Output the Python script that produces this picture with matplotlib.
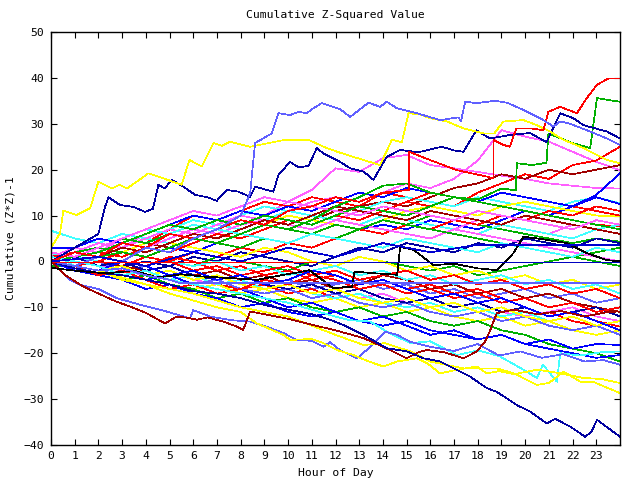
import matplotlib
matplotlib.use("Agg")
import matplotlib.pyplot as plt

# ---------------- palette ----------------
R = '#ff0000'; G = '#00b000'; B = '#0000ff'; M = '#ff60ff'; C = '#40ffff'
Y = '#ffff00'; K = '#000000'; DR = '#a00000'; LB = '#6060ff'; N = '#0000a0'

hours = list(range(25))
x_ticks = list(range(24))
y_ticks = list(range(-40, 51, 10))

# ---------------- bundle walks (hourly readings) ----------------
b01 = [0, 2, 4, 3, 6, 8, 7, 9, 11, 10, 13, 15.6, 20.3, 19.5, 22.5, 23.2, 21, 20.3, 19.5, 18.7, 18, 17, 16.5, 16, 15.9]
b02 = [1, 3, 2, 5, 4, 7, 9, 8, 10, 12, 11, 13, 14, 13, 15, 17, 16, 18, 22, 28.6, 27.2, 26.1, 23.9, 21.7, 19.9]
b03 = [0, 1, 3, 5, 4, 7, 10, 9, 11, 13, 12, 11, 13, 12, 15, 14, 13, 12, 15, 17, 19, 18, 21, 22, 25.0]
b04 = [0, 1, 0, 2, 4, 3, 5, 7, 6, 8, 10, 9, 11, 12, 13, 12, 14, 16, 17, 19, 18, 20, 19, 20, 21]
b05 = [2, -1, 1, 3, 5, 4, 6, 8, 7, 9, 11, 10, 12, 11, 13, 14, 13, 12, 14, 13, 12, 11, 13, 14, 12.7]
b06 = [0, 1, 0, 2, 1, 3, 2, 4, 6, 5, 4, 6, 5, 7, 8, 7, 9, 8, 7, 9, 11, 10, 12, 14.5, 19.2]
b07 = [1, 2, 1, 4, 6, 8, 7, 9, 11, 10, 12, 14, 13, 12, 11, 13, 15, 14, 13, 12, 11, 10, 9, 8, 7.6]
b08 = [0, 1, 3, 2, 4, 6, 5, 7, 6, 8, 10, 9, 8, 7, 9, 11, 12, 11, 10, 12, 13, 12, 11, 10, 9.8]
b09 = [0, -1, 0, 2, 1, 3, 5, 7, 9, 8, 7, 6, 8, 7, 6, 8, 10, 9, 8, 7, 6, 5, 4, 5, 4.3]
b10 = [0, 1, 2, 4, 3, 5, 7, 6, 8, 9, 8, 10, 9, 11, 10, 9, 8, 7, 9, 8, 7, 6, 8, 7, 6]
b11 = [6.7, 5, 4, 6, 5, 7, 9, 8, 10, 12, 11, 10, 9, 8, 10, 9, 8, 7, 6, 8, 7, 6, 5, 7, 8]
b12 = [0, 1, 0, -1, 1, 0, 2, 1, 3, 2, 4, 3, 5, 7, 6, 8, 7, 9, 8, 10, 9, 11, 10, 12, 11]
b13 = [0, -1, -2, -1, 0, -1, 1, 0, 2, 1, 0, -1, 1, 3, 2, 4, 3, 2, 4, 3, 5, 4, 3, 5, 4]
b14 = [0, 1, 3, 2, 1, 0, -1, 1, 0, -1, -2, 0, -1, 1, 0, -1, -2, -1, -3, -2, -1, 0, 1, 2, 3]
b15 = [0, -1, 0, -2, -1, -3, -2, -4, -3, -5, -4, -6, -5, -4, -6, -5, -7, -6, -8, -7, -6, -8, -7, -9, -8]
b16 = [-1, -1, -2, -3, -2, -4, -3, -5, -6, -5, -7, -6, -8, -7, -9, -8, -10, -9, -11, -10, -12, -11, -13, -14, -16]
b17 = [0, -1, -3, -2, -4, -5, -6, -5, -7, -6, -8, -9, -8, -10, -9, -11, -10, -12, -13, -12, -14, -13, -15, -16, -15]
b18 = [0, 1, -1, -2, -3, -2, -4, -5, -4, -6, -5, -7, -6, -8, -7, -9, -8, -10, -9, -11, -12, -11, -10, -12, -13]
b19 = [-1, -1, -2, -4, -3, -5, -6, -8, -7, -9, -8, -10, -11, -10, -12, -11, -13, -14, -13, -15, -16, -18, -19, -20, -21.8]
b20 = [0, -2, -3, -4, -6, -5, -7, -8, -10, -9, -11, -12, -11, -13, -14, -13, -15, -16, -17, -16, -18, -19, -20, -21, -20.4]
b21 = [0, -1, -2, -1, -3, -4, -3, -5, -4, -6, -5, -7, -8, -7, -9, -10, -9, -11, -10, -12, -11, -13, -12, -14, -13]
b22 = [0, 1, 0, -1, -2, -1, -3, -2, -4, -3, -5, -4, -6, -5, -3, -4, -6, -5, -7, -6, -8, -7, -9, -10, -11]
b23 = [0, 2, 1, 0, -1, 1, 0, -2, -1, -3, -2, -4, -3, -5, -4, -6, -5, -7, -6, -8, -10, -12, -11, -13, -14.2]
b24 = [0, -1, -3, -2, -4, -3, -5, -7, -6, -8, -10, -9, -11, -13, -12, -14, -16, -15, -17, -16, -18, -17, -19, -18, -18.2]
b25 = [0, 2, 1, 3, 2, 4, 3, 2, 1, 3, 2, 0, -1, 1, 0, -2, -1, -3, -2, -4, -3, -5, -4, -6, -5]
b26 = [0, 2, 4, 3, 5, 7, 6, 8, 10, 9, 8, 7, 9, 8, 7, 6, 5, 7, 6, 5, 4, 3, 2, 1, 0]
b27 = [0, 1, 0, 2, 1, 0, -1, 0, -2, -1, -3, -2, -1, -3, -2, -4, -3, -5, -4, -3, -5, -4, -6, -5, -7]
b28 = [0, 2, 3, 5, 4, 6, 5, 4, 3, 5, 4, 6, 5, 7, 9, 8, 7, 6, 5, 4, 3, 2, 1, 0, -1]
b29 = [0, 1, 2, 1, 3, 2, 4, 6, 5, 7, 9, 8, 10, 9, 11, 13, 12, 14, 13, 15, 14, 13, 12, 11, 10]
b30 = [0, -1, -2, -3, -2, -4, -5, -4, -6, -7, -6, -8, -7, -9, -10, -9, -11, -12, -11, -13, -12, -14, -15, -14, -16]
b31 = [0, 1, -1, 0, -2, -1, -3, -4, -3, -5, -6, -5, -7, -6, -8, -9, -8, -10, -9, -11, -10, -12, -11, -10, -12]
b32 = [0, -1, 1, 3, 2, 4, 6, 5, 7, 9, 8, 10, 12, 11, 10, 9, 11, 10, 9, 8, 10, 9, 8, 7, 6]
b33 = [0, -1, -2, -1, -3, -2, -4, -3, -5, -6, -5, -7, -6, -8, -9, -8, -10, -9, -11, -10, -12, -13, -12, -14, -13]
b34 = [3, 3, 5, 4, 6, 8, 10, 9, 11, 10, 12, 11, 13, 15, 14, 16, 15, 14, 13, 15, 14, 13, 12, 14, 12.5]
b35 = [0, 1, 3, 5, 7, 6, 8, 7, 6, 5, 4, 6, 5, 4, 3, 5, 4, 3, 2, 4, 3, 2, 1, 3, 2]
b36 = [0, -1, 0, 2, 1, 0, -2, -1, -3, -2, -1, -3, -2, -4, -3, -2, -4, -3, -5, -4, -6, -5, -7, -6, -8]
b37 = [0, 1, 2, 4, 6, 8, 7, 9, 8, 10, 9, 8, 10, 12, 11, 10, 12, 14, 13, 12, 11, 10, 9, 8, 7]
b38 = [2, 1, 3, 5, 7, 9, 11, 10, 12, 14, 13, 12, 11, 10, 12, 11, 10, 9, 11, 10, 9, 8, 7, 9, 8]
b39 = [0, -1, -3, -2, -4, -6, -5, -7, -6, -4, -5, -3, -4, -6, -5, -7, -6, -8, -7, -9, -8, -10, -9, -11, -10]
b40 = [0, -1, -2, 0, -1, -3, -2, -4, -3, -5, -4, -2, -3, -5, -4, -6, -8, -7, -9, -8, -10, -12, -11, -13, -15]

bundle = [
    (b01, M), (b02, M), (b03, R), (b04, DR), (b05, C), (b06, B), (b07, R), (b08, Y),
    (b09, G), (b10, M), (b11, C), (b12, R), (b13, N), (b14, G), (b15, LB), (b16, R),
    (b17, Y), (b18, M), (b19, G), (b20, B), (b21, C), (b22, DR), (b23, R), (b24, B),
    (b25, Y), (b26, M), (b27, C), (b28, G), (b29, R), (b30, LB), (b31, N), (b32, DR),
    (b33, Y), (b34, B), (b35, C), (b36, R), (b37, G), (b38, M), (b39, R), (b40, B),
]

# ---------------- prominent walks (finer readings) ----------------
lbtop_x = [0, 1, 2, 3, 4, 5, 6, 7, 8, 8.4, 8.61, 9.31, 9.59, 10.08, 10.44, 10.79, 11.07, 11.42, 12.19, 12.62, 13.39, 13.88, 14.16, 14.59, 15.43, 16.41, 17.19, 17.29, 17.47, 17.96, 18.73, 19.23, 19.93, 20.77, 21.19, 21.48, 21.9, 22.74, 23.45, 24]
lbtop_y = [0, -1, 1, 0, 3, 2, 5, 7, 10, 14.9, 25.8, 27.9, 32.3, 31.9, 32.6, 32.3, 33.4, 34.5, 33.2, 31.5, 34.6, 33.7, 34.8, 33.4, 32.3, 30.8, 31.4, 30.5, 34.8, 34.5, 35.0, 34.6, 33.0, 30.8, 29.4, 30.5, 30.0, 28.3, 26.8, 25.4]

ytop_x = [0, 0.38, 0.52, 1.08, 1.65, 2.0, 2.56, 2.9, 3.2, 3.76, 4.1, 4.74, 5.51, 5.84, 6.36, 6.85, 7.2, 7.55, 8.4, 9.87, 10.86, 11.63, 12.19, 13.18, 13.88, 14.38, 14.8, 15.08, 15.6, 15.99, 16.7, 17.4, 18.24, 18.7, 19.08, 19.93, 20.49, 21.05, 21.62, 22.46, 23.45, 24]
ytop_y = [3, 6.1, 11.1, 10.1, 11.6, 17.4, 15.9, 16.7, 15.9, 17.9, 19.2, 18.1, 16.7, 22.1, 20.7, 25.8, 25.2, 26.1, 25.0, 26.5, 26.5, 24.7, 23.7, 22.1, 21.0, 26.5, 26.0, 32.3, 32.0, 31.2, 30.5, 29.0, 27.9, 27.9, 30.5, 30.8, 29.7, 28.3, 26.5, 24.7, 22.1, 21.4]

ntop_x = [0, 1, 2, 2.28, 2.42, 2.91, 3.47, 3.97, 4.3, 4.53, 4.8, 5.09, 5.58, 6.08, 6.6, 6.99, 7.41, 7.9, 8.4, 8.61, 9.38, 9.59, 10.08, 10.44, 10.86, 11.21, 11.5, 12.19, 12.62, 13.18, 13.6, 14.16, 14.73, 15.5, 16.48, 17.0, 17.4, 17.94, 18.52, 19.3, 20.2, 20.9, 21.48, 22.04, 22.46, 23.45, 24]
ntop_y = [0, 3, 6, 11.9, 14.0, 12.3, 11.9, 10.8, 11.5, 16.7, 15.9, 17.8, 16.3, 14.5, 14.0, 13.2, 15.6, 15.2, 14.1, 16.3, 15.2, 18.8, 21.7, 20.5, 20.8, 24.7, 23.5, 21.7, 20.3, 19.6, 17.8, 22.8, 24.3, 23.8, 25.0, 24.2, 23.9, 28.6, 26.8, 27.5, 28.0, 26.0, 32.3, 31.2, 29.7, 28.3, 26.8]

rtop_x = [0, 1, 2, 3, 4, 5, 6, 7, 8, 9, 10, 11, 12, 13, 14, 15.1, 15.1, 15.99, 17.12, 18.38, 18.66, 18.66, 19.08, 19.35, 19.63, 20.2, 20.77, 20.98, 21.48, 22.18, 22.6, 23.03, 23.52, 24]
rtop_y = [0, 2, 1, 4, 3, 6, 5, 7, 9, 8, 11, 12, 14, 13, 15, 15.6, 23.9, 22.1, 19.9, 18.5, 18.1, 26.5, 25.4, 25.0, 29.0, 29.0, 28.6, 32.6, 33.7, 32.3, 35.6, 38.5, 39.9, 39.9]

gtop_x = [0, 1, 2, 3, 4, 5, 6, 7, 8, 9, 10, 11, 12, 13, 14, 15, 16, 17, 18, 19.0, 19.6, 19.65, 20.3, 20.9, 20.98, 21.5, 22.0, 22.74, 23.03, 23.5, 24]
gtop_y = [0, -1, 1, 2, 1, 3, 5, 4, 6, 8, 7, 9, 12, 14, 16.5, 17, 15, 14, 13.5, 15.9, 15.5, 21.4, 21.0, 21.5, 27.9, 26.8, 25.8, 24.7, 35.6, 35.2, 34.8]

nbot_x = [0, 1, 2, 3, 4, 5, 6, 7, 8, 9, 10, 11, 11.77, 12.4, 13.18, 14.16, 15.0, 15.71, 16.41, 16.98, 17.68, 18.38, 18.8, 19.65, 20.2, 20.91, 21.27, 21.9, 22.53, 22.8, 23.03, 23.5, 24]
nbot_y = [0, -1.5, -2.5, -3, -4, -5, -6.5, -7, -8, -9.5, -10.5, -11.5, -12.7, -14, -16.0, -18.9, -19.6, -21.1, -21.8, -23.3, -25.1, -27.6, -28.4, -31.3, -32.7, -35.3, -34.3, -36.0, -38.2, -37.1, -34.5, -36.3, -38.2]

drbot_x = [0, 0.6, 1.37, 2.77, 3.33, 4.04, 4.81, 5.3, 5.8, 6.15, 6.6, 7.27, 7.84, 8.11, 8.4, 9.0, 10.0, 11.0, 12.0, 13.18, 14.3, 15.0, 15.5, 15.85, 16.6, 17.4, 17.96, 18.3, 18.5, 18.8, 19.5, 20.5, 21.5, 22.5, 23.5, 24]
drbot_y = [0, -3, -5.5, -8.8, -9.8, -11.3, -13.5, -12.0, -12.3, -12.7, -12.2, -13.1, -14.2, -14.9, -10.9, -11.5, -12.5, -13.8, -15, -16.7, -19.3, -21.1, -19.8, -19.3, -19.8, -21.1, -19.6, -17.5, -15.3, -11.3, -10.5, -11.5, -10.8, -12, -11, -10.9]

ybot_x = [0, 1, 2, 3, 4, 5, 6, 7, 8, 8.68, 9.8, 10.08, 11.0, 11.49, 12.06, 12.76, 13.4, 14.02, 14.6, 15.43, 15.9, 16.41, 17.12, 17.96, 18.38, 18.9, 19.65, 20.49, 21.0, 21.62, 22.32, 22.9, 24]
ybot_y = [0, -1, -2, -4, -5, -7, -8.5, -10, -11, -13.5, -16.0, -17.1, -16.9, -17.8, -19.3, -20.4, -21.8, -22.9, -21.8, -21.1, -22.3, -24.4, -23.6, -22.9, -24.4, -23.9, -24.7, -26.9, -26.5, -24.0, -26.2, -26.3, -28.7]

ybot2_x = [0, 2, 4, 6, 8, 10, 11, 12, 13.18, 14.09, 15.15, 15.99, 17.4, 18.8, 19.6, 20.49, 21.3, 22.46, 23.2, 24]
ybot2_y = [0, -2, -5, -7, -10, -12, -14, -16, -18.2, -17.8, -19.6, -21.8, -23.3, -23.3, -24.5, -23.6, -24.2, -25.4, -25.6, -26.5]

cbot_x = [0, 1, 2, 3, 4, 5, 6, 7, 8, 9, 10, 11, 11.77, 12.6, 13.46, 14.16, 15.15, 16.0, 17.12, 18.0, 18.9, 19.93, 20.49, 20.75, 21.34, 21.48, 22.3, 23.2, 24]
cbot_y = [1, 0, -1, -3, -2, -4, -5, -6, -7, -8, -9, -10.5, -11.7, -12.8, -13.1, -15.3, -17.8, -17.4, -20.4, -19.4, -20.6, -23.6, -25.4, -22.5, -26.2, -20.0, -20.5, -19.8, -19.6]

lbbot_x = [0, 0.8, 1.22, 2.0, 2.77, 3.8, 4.8, 5.86, 6.0, 6.71, 7.6, 8.4, 9.1, 9.8, 10.37, 11.0, 11.49, 11.77, 12.19, 12.9, 13.5, 14.09, 14.6, 15.15, 16.0, 17.0, 18.0, 18.9, 19.8, 20.7, 21.6, 22.5, 23.3, 24]
lbbot_y = [0, -4.0, -5.1, -6.0, -8.0, -9.5, -10.8, -12.4, -10.6, -12.0, -12.8, -13.1, -14.2, -15.6, -17.1, -17.3, -18.6, -17.6, -19.3, -21.1, -18.5, -15.3, -16.0, -17.5, -18.6, -19.5, -18.0, -20.5, -19.6, -21.0, -20.2, -21.8, -21.5, -22.5]

blk_x = [0, 1, 2.35, 3.5, 4.5, 5.5, 6.4, 7.5, 8.7, 9.5, 10.3, 10.9, 11.9, 12.7, 12.8, 13.7, 14.6, 14.73, 15.3, 16.13, 17.0, 18.0, 18.8, 19.5, 19.93, 20.8, 21.76, 22.6, 23.45, 24]
blk_y = [-1.4, -2.0, -2.6, -2.0, -3.5, -2.8, -3.3, -3.6, -4.0, -3.2, -2.5, -1.9, -5.8, -5.5, -2.2, -2.6, -2.9, 3.2, 2.5, -0.8, -0.5, -1.5, -1.9, 1.8, 5.4, 4.8, 4.0, 1.8, 0.3, 0.0]

# flat (stalled) series
flat_red_x = [0, 24]
flat_red_y = [-0.2, -0.2]
flat_navy_x = [11.2, 24]
flat_navy_y = [-0.2, -0.2]
flat_lb_x = [0, 1, 2, 3, 4, 5, 5.44, 24]
flat_lb_y = [0, -1, -2, -1.5, -3, -4, -4.75, -4.75]
flat_blue_x = [0, 2, 4, 6, 8, 10, 12, 14, 16, 17.96, 24]
flat_blue_y = [0, 1, -1, 2, 0, 3, 1, 4, 2, 3.6, 3.6]

prominent = [
    (cbot_x, cbot_y, C), (lbbot_x, lbbot_y, LB), (ybot2_x, ybot2_y, Y), (ybot_x, ybot_y, Y),
    (drbot_x, drbot_y, DR), (nbot_x, nbot_y, N), (gtop_x, gtop_y, G), (ntop_x, ntop_y, N),
    (ytop_x, ytop_y, Y), (rtop_x, rtop_y, R), (lbtop_x, lbtop_y, LB), (blk_x, blk_y, K),
    (flat_lb_x, flat_lb_y, LB), (flat_blue_x, flat_blue_y, '#0000d0'),
    (flat_red_x, flat_red_y, R), (flat_navy_x, flat_navy_y, '#0000c0'),
]

# ---------------- drawing ----------------
plt.rcParams['font.family'] = 'DejaVu Sans Mono'

fig = plt.figure(figsize=(6.4, 4.8), dpi=100)
ax = fig.add_axes([51 / 640, 1 - 445 / 480, (620 - 51) / 640, (445 - 32) / 480])

lw = 0.5
for vals, col in bundle:
    ax.plot(hours, vals, color=col, lw=lw, antialiased=False)
for xs, ys, col in prominent:
    ax.plot(xs, ys, color=col, lw=lw, antialiased=False)

ax.set_xlim(0, 24)
ax.set_ylim(-40, 50)
ax.set_xticks(x_ticks)
ax.set_yticks(y_ticks)
ax.tick_params(direction='in', length=4, width=0.8, top=True, right=True,
               labelsize=8.2, colors='black')
ax.tick_params(axis='x', pad=4)
ax.tick_params(axis='y', pad=5)
for s in ax.spines.values():
    s.set_linewidth(1.0)
    s.set_color('black')

ax.set_title('Cumulative Z-Squared Value', fontsize=8.2, pad=10)
ax.set_xlabel('Hour of Day', fontsize=8.2, labelpad=5)
ax.set_ylabel('Cumulative (Z*Z)-1', fontsize=8.2, labelpad=6)

fig.savefig('out.png', dpi=100)
